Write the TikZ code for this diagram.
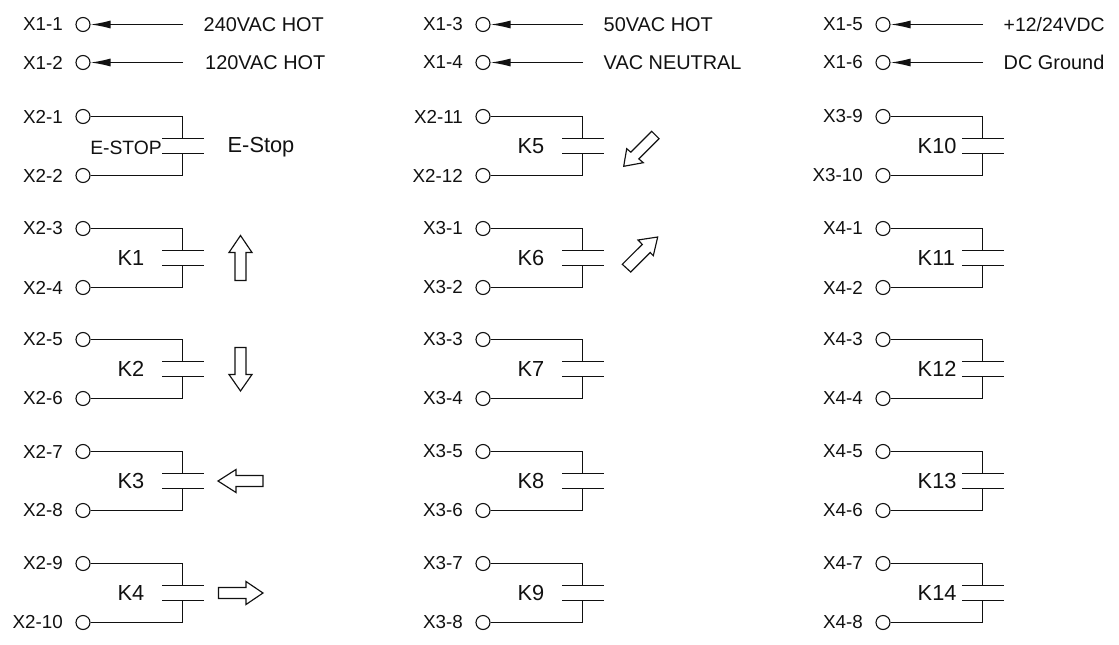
\documentclass[tikz,border=0pt]{standalone}
\usepackage{fontspec}
\setmainfont{Liberation Sans}
\usetikzlibrary{arrows.meta}
\definecolor{ink}{HTML}{111111}
\tikzset{
  x=1pt,y=-1pt,
  wire/.style={draw=ink,line width=1.25pt},
  plate/.style={draw=ink,line width=1.25pt},
  term/.style={circle,draw=ink,line width=1.1pt,fill=white,minimum size=14pt,inner sep=0pt},
  pin/.style={anchor=east,inner sep=0pt,text=ink,font=\fontsize{18.8}{22}\selectfont},
  src/.style={anchor=west,inner sep=0pt,text=ink,font=\fontsize{19.9}{22}\selectfont},
  coil/.style={anchor=west,inner sep=0pt,text=ink,font=\fontsize{21.8}{24}\selectfont},
  hollow/.style={draw=ink,line width=1.15pt,fill=white,line join=miter},
  feed/.style={wire,-{Latex[length=20pt,width=8pt]}}
}
% #1 id, #2 x offset, #3 top y, #4 top pin, #5 bottom pin, #6 coil label
\newcommand{\relaycontact}[6]{%
  \node[term] (#1a) at (83+#2,#3) {};
  \node[term] (#1b) at (83+#2,#3+59) {};
  \node[pin] (#1p) at (63+#2,#3) {#4};
  \node[pin] (#1q) at (63+#2,#3+59) {#5};
  \coordinate (#1u) at (182.5+#2,#3+22);
  \coordinate (#1d) at (182.5+#2,#3+37);
  \coordinate (#1ul) at (162+#2,#3+22);
  \coordinate (#1ur) at (203.5+#2,#3+22);
  \coordinate (#1dl) at (162+#2,#3+37);
  \coordinate (#1dr) at (203.5+#2,#3+37);
  \draw[wire] (#1a.east) -| (#1u);
  \draw[wire] (#1b.east) -| (#1d);
  \draw[plate] (#1ul) -- (#1ur);
  \draw[plate] (#1dl) -- (#1dr);
  \if\relax\detokenize{#6}\relax\else
    \node[coil] (#1k) at (117.5+#2,#3+29.5) {#6};
  \fi
}
% #1 id, #2 x offset, #3 y, #4 pin, #5 text
\newcommand{\feedline}[5]{%
  \node[term] (#1a) at (83+#2,#3) {};
  \node[pin] (#1p) at (63+#2,#3) {#4};
  \coordinate (#1e) at (183+#2,#3);
  \node[src] (#1s) at (203.5+#2,#3) {#5};
  \draw[feed] (#1e) -- (#1a.east);
}
\begin{document}
\begin{tikzpicture}
\useasboundingbox (0,0) rectangle (1119,645);
\feedline{fa}{0}{24.5}{X1-1}{240VAC HOT}
\feedline{fb}{0}{62.5}{X1-2}{\hspace*{1.5pt}120VAC HOT}
\feedline{fc}{400}{24.5}{X1-3}{50VAC HOT}
\feedline{fd}{400}{62.5}{X1-4}{VAC NEUTRAL}
\feedline{fe}{800}{24.5}{X1-5}{\fontsize{19.4}{22}\selectfont +12/24VDC}
\feedline{ff}{800}{62.5}{X1-6}{DC Ground}

\relaycontact{es}{0}{116.5}{X2-1}{X2-2}{}
\node[anchor=east,inner sep=0pt,text=ink,font=\fontsize{19.3}{22}\selectfont] (estopa) at (162,148) {E-STOP};
\node[coil] (estopb) at (227.5,147) {E-Stop};
\relaycontact{ka}{0}{228.5}{X2-3}{X2-4}{K1}
\relaycontact{kb}{0}{339.5}{X2-5}{X2-6}{K2}
\relaycontact{kc}{0}{451.5}{X2-7}{X2-8}{K3}
\relaycontact{kd}{0}{563.5}{X2-9}{X2-10}{K4}

\relaycontact{ke}{400}{116.5}{X2-11}{X2-12}{K5}
\relaycontact{kf}{400}{228.5}{X3-1}{X3-2}{K6}
\relaycontact{kg}{400}{339.5}{X3-3}{X3-4}{K7}
\relaycontact{kh}{400}{451.5}{X3-5}{X3-6}{K8}
\relaycontact{ki}{400}{563.5}{X3-7}{X3-8}{K9}

\relaycontact{kj}{800}{116.5}{X3-9}{X3-10}{K10}
\relaycontact{kk}{800}{228.5}{X4-1}{X4-2}{K11}
\relaycontact{kl}{800}{339.5}{X4-3}{X4-4}{K12}
\relaycontact{km}{800}{451.5}{X4-5}{X4-6}{K13}
\relaycontact{kn}{800}{563.5}{X4-7}{X4-8}{K14}

% direction arrows
\draw[hollow] (240.5,235.5) -- (252,252.5) -- (246,252.5) -- (246,280.5) -- (235,280.5) -- (235,252.5) -- (229,252.5) -- cycle;
\draw[hollow] (240.5,391) -- (252,374.5) -- (246,374.5) -- (246,347.5) -- (235,347.5) -- (235,374.5) -- (229,374.5) -- cycle;
\draw[hollow] (218,481) -- (236,469.5) -- (236,475.5) -- (263,475.5) -- (263,486.5) -- (236,486.5) -- (236,492.5) -- cycle;
\draw[hollow] (263,593) -- (246,581.5) -- (246,587.5) -- (218.5,587.5) -- (218.5,598.5) -- (246,598.5) -- (246,604.5) -- cycle;
\draw[hollow] (623.7,166.3) -- (626.7,148.7) -- (630.8,152.2) -- (651.7,131.3) -- (659,138.7) -- (638.8,158.9) -- (643.3,162.7) -- cycle;
\draw[hollow] (657.7,237) -- (638,240) -- (642.3,244.4) -- (622.3,264.3) -- (630.7,272) -- (650.2,252.5) -- (653.3,255.7) -- cycle;
\end{tikzpicture}
\end{document}
